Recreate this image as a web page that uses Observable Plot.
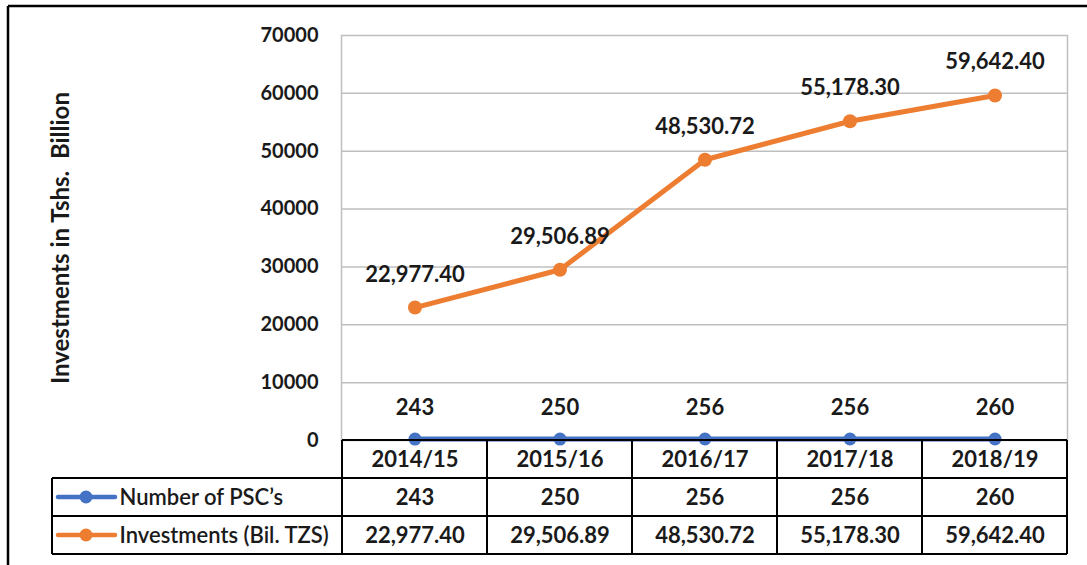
<!DOCTYPE html>
<html><head><meta charset="utf-8">
<script src="https://cdn.jsdelivr.net/npm/d3@7"></script>
<script src="https://cdn.jsdelivr.net/npm/@observablehq/plot@0.6"></script>
<style>body{margin:0;background:#fff;} svg{display:block;}</style>
</head><body><div id="chart"></div>
<script>
// ---- data ----
const years = ["2014/15", "2015/16", "2016/17", "2017/18", "2018/19"];
const pscCounts = [243, 250, 256, 256, 260];
const investments = [22977.40, 29506.89, 48530.72, 55178.30, 59642.40];
const investmentLabels = ["22,977.40", "29,506.89", "48,530.72", "55,178.30", "59,642.40"];
const yTicks = [0, 10000, 20000, 30000, 40000, 50000, 60000, 70000];
const seriesNames = ["Number of PSC\u2019s", "Investments (Bil. TZS)"];
const yTitle = "Investments in Tshs.\u00a0 Billion";

// ---- styling ----
const blue = "#4472C4", orange = "#ED7D31", ink = "#1a1a1a", gridColor = "#bfbfbf";
const font = "Lato, 'Open Sans', sans-serif";
const fs = 22;

const psc = years.map((y, i) => ({year: y, value: pscCounts[i], label: String(pscCounts[i])}));
const inv = years.map((y, i) => ({year: y, value: investments[i], label: investmentLabels[i]}));

const W = 1087, H = 565, mL = 341, mR = 20, mT = 35, mB = 125;
const rowH = 38;
const cellText = {fill: ink, fontSize: fs, fontWeight: "bold", frameAnchor: "bottom", lineAnchor: "middle", textAnchor: "middle"};

const chart = Plot.plot({
  width: W, height: H,
  marginLeft: mL, marginRight: mR, marginTop: mT, marginBottom: mB,
  style: {fontFamily: font, fontSize: "20px", fontWeight: "bold", color: ink, background: "#fff"},
  x: {type: "band", domain: years, padding: 0, axis: null},
  y: {domain: [0, 70000], ticks: yTicks, tickSize: 0, tickPadding: 23,
      tickFormat: d3.format("d"), label: null},
  marks: [
    Plot.ruleY(yTicks.slice(1, -1), {stroke: gridColor, strokeWidth: 1.5}),
    Plot.frame({stroke: gridColor, strokeWidth: 1.5}),
    Plot.text([yTitle], {frameAnchor: "left", rotate: -90, dx: -(mL - 61),
      textAnchor: "middle", lineAnchor: "middle", fontSize: 24, fontWeight: "bold", fill: ink}),
    // investments
    Plot.line(inv, {x: "year", y: "value", stroke: orange, strokeWidth: 5, strokeLinejoin: "round"}),
    Plot.dot(inv, {x: "year", y: "value", r: 7, fill: orange, stroke: null}),
    Plot.text(inv, {x: "year", y: "value", text: "label", dy: -33, fill: ink, fontSize: fs, fontWeight: "bold"}),
    // PSC counts
    Plot.line(psc, {x: "year", y: "value", stroke: blue, strokeWidth: 5, strokeLinejoin: "round"}),
    Plot.dot(psc, {x: "year", y: "value", r: 6.5, fill: blue, stroke: null}),
    Plot.text(psc, {x: "year", y: "value", text: "label", dy: -31, fill: ink, fontSize: fs, fontWeight: "bold"}),
    // data table: header + rows
    Plot.text(years, {x: d => d, text: d => d, dy: rowH / 2, ...cellText}),
    Plot.text(psc, {x: "year", text: "label", dy: rowH * 1.5, ...cellText}),
    Plot.text(inv, {x: "year", text: "label", dy: rowH * 2.5, ...cellText}),
    Plot.text([seriesNames[0]], {frameAnchor: "bottom-left", dx: 119 - mL, dy: rowH * 1.5, textAnchor: "start", lineAnchor: "middle", fill: ink, fontSize: fs, fontWeight: 600}),
    Plot.text([seriesNames[1]], {frameAnchor: "bottom-left", dx: 119 - mL, dy: rowH * 2.5, textAnchor: "start", lineAnchor: "middle", fill: ink, fontSize: fs, fontWeight: 600})
  ]
});
document.getElementById("chart").appendChild(chart);

// ---- table grid & legend keys, positioned from Plot's x scale ----
const svg = d3.select(chart);
const xs = chart.scale("x");
const bw = xs.bandwidth;
const edges = years.map(y => xs.apply(y)).concat([xs.apply(years[years.length - 1]) + bw]);
const x0 = edges[0], x1 = edges[edges.length - 1];
const y0 = H - mB;
const tableLeft = 52;
const g = svg.append("g").attr("stroke", "#000").attr("stroke-width", 2).attr("fill", "none");
g.append("line").attr("x1", x0).attr("x2", x1).attr("y1", y0).attr("y2", y0);
for (let r = 1; r <= 3; r++) {
  g.append("line").attr("x1", tableLeft).attr("x2", x1).attr("y1", y0 + r * rowH).attr("y2", y0 + r * rowH);
}
g.append("line").attr("x1", tableLeft).attr("x2", tableLeft).attr("y1", y0 + rowH).attr("y2", y0 + 3 * rowH);
edges.forEach(e => g.append("line").attr("x1", e).attr("x2", e).attr("y1", y0).attr("y2", y0 + 3 * rowH));

[[blue, 1.5], [orange, 2.5]].forEach(([c, k]) => {
  const yy = y0 + rowH * k;
  svg.append("line").attr("x1", 58).attr("x2", 115).attr("y1", yy).attr("y2", yy)
    .attr("stroke", c).attr("stroke-width", 4.5).attr("stroke-linecap", "round");
  svg.append("circle").attr("cx", 86).attr("cy", yy).attr("r", 6.5).attr("fill", c);
});

// outer border (top and left edges visible)
const ob = svg.append("g").attr("stroke", "#000").attr("stroke-width", 2.5);
ob.append("line").attr("x1", 8).attr("x2", W).attr("y1", 6).attr("y2", 6);
ob.append("line").attr("x1", 8).attr("x2", 8).attr("y1", 6).attr("y2", H);
</script>
</body></html>
